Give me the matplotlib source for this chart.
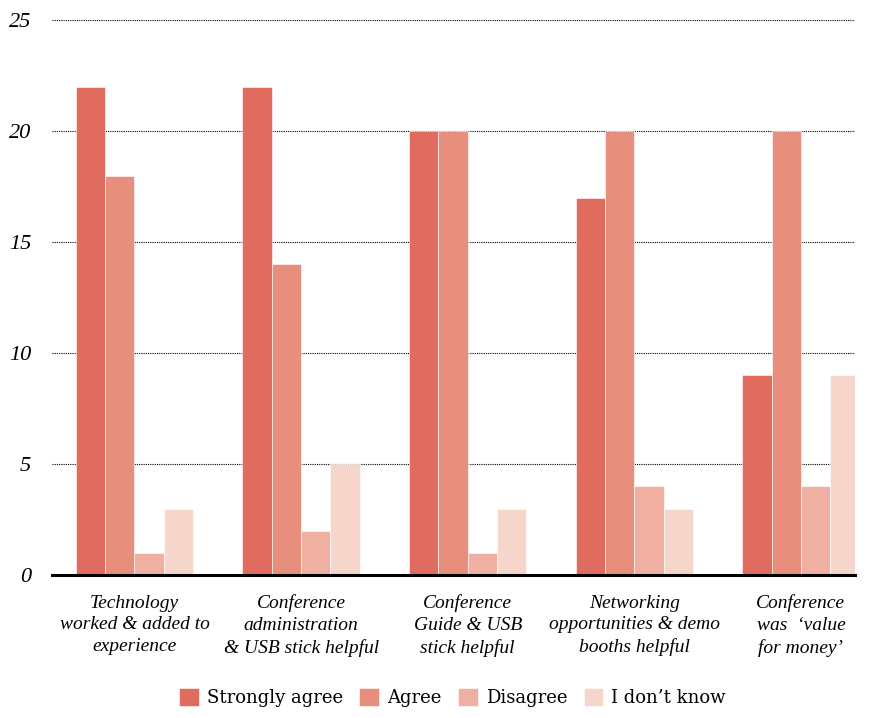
import numpy as np
import matplotlib
matplotlib.use("Agg")
from matplotlib import pyplot as plt

categories = [
    "Technology\nworked & added to\nexperience",
    "Conference\nadministration\n& USB stick helpful",
    "Conference\nGuide & USB\nstick helpful",
    "Networking\nopportunities & demo\nbooths helpful",
    "Conference\nwas  \u2018value\nfor money\u2019",
]
series_names = ["Strongly agree", "Agree", "Disagree", "I don\u2019t know"]
strongly_agree = [22, 22, 20, 17, 9]
agree = [18, 14, 20, 20, 20]
disagree = [1, 2, 1, 4, 4]
dont_know = [3, 5, 3, 3, 9]
colors = ["#e06c60", "#e88e7c", "#efb0a1", "#f6d5cb"]

series = [strongly_agree, agree, disagree, dont_know]
x = np.arange(len(categories))
width = 0.176

fig = plt.figure(figsize=(8.70, 7.18), dpi=100)
ax = fig.add_axes([0.0598, 0.199, 0.923, 0.773])

for i, vals in enumerate(series):
    ax.bar(x + (i - 1.5) * width, vals, width, color=colors[i],
           edgecolor="white", linewidth=0.4, label=series_names[i], zorder=2)

ax.set_ylim(0, 25)
ax.set_xlim(-0.495, 4.325)
ax.set_yticks([0, 5, 10, 15, 20, 25])
ax.yaxis.grid(True, color="black", linestyle=(0, (1, 1)), linewidth=0.8, zorder=1)
ax.axhline(0, color="black", linewidth=2.2, zorder=3, clip_on=False)
for s in ax.spines.values():
    s.set_visible(False)
ax.tick_params(axis="both", length=0)
ax.tick_params(axis="y", pad=15)
ax.set_xticks(x)
ax.set_xticklabels(categories, fontfamily="Liberation Serif", fontstyle="italic",
                   fontsize=14, linespacing=1.35)
ax.tick_params(axis="x", pad=14)
for lbl in ax.get_yticklabels():
    lbl.set_fontfamily("Liberation Serif")
    lbl.set_fontstyle("italic")
    lbl.set_fontsize(16)

fig.legend(loc="lower center", ncol=4, frameon=False, bbox_to_anchor=(0.52, -0.008),
           prop={"family": "DejaVu Serif", "size": 13}, handlelength=1.1,
           handleheight=1.15, handletextpad=0.45, columnspacing=0.9)

fig.savefig("out.png", dpi=100)
